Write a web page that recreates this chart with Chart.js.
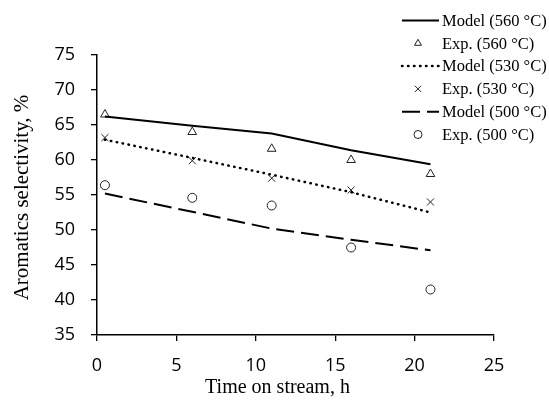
<!DOCTYPE html>
<html>
<head>
<meta charset="utf-8">
<script src="https://cdn.jsdelivr.net/npm/chart.js@4"></script>
<style>
  html, body { margin: 0; padding: 0; background: #fff; }
</style>
</head>
<body>
<canvas id="selectivityChart" width="549" height="405"></canvas>
<script>
// time on stream, h
const times = [0.5, 6, 11, 16, 21]
// aromatics selectivity, %
const model560 = [66.2, 64.9, 63.8, 61.4, 59.4]
const exp560 = [66.5, 64.0, 61.6, 60.0, 58.0]
const model530 = [62.9, 60.3, 57.9, 55.4, 52.5]
const exp530 = [63.2, 59.9, 57.4, 55.7, 54.0]
const model500 = [55.2, 52.6, 50.2, 48.6, 47.1]
const exp500 = [56.4, 54.6, 53.5, 47.5, 41.5]

const legendLabels = [
    'Model (560 °C)',
    'Exp. (560 °C)',
    'Model (530 °C)',
    'Exp. (530 °C)',
    'Model (500 °C)',
    'Exp. (500 °C)'
]
const xTitle = 'Time on stream, h'
const yTitle = 'Aromatics selectivity, %'

const pts = (ys) => times.map((t, i) => ({ x: t, y: ys[i] }))

const lineSet = (label, ys, dash, width, cap) => ({
    label,
    data: pts(ys),
    showLine: true,
    borderColor: '#000',
    borderWidth: width,
    borderDash: dash,
    borderCapStyle: cap,
    pointRadius: 0,
    pointHoverRadius: 0,
    fill: false,
    tension: 0
})

const markSet = (label, ys, style, radius) => ({
    label,
    data: pts(ys),
    showLine: false,
    pointStyle: style,
    pointRadius: radius,
    pointBorderColor: '#222',
    pointBackgroundColor: 'rgba(255,255,255,0)',
    pointBorderWidth: 1
})

const datasets = [
    lineSet(legendLabels[0], model560, [], 2, 'butt'),
    markSet(legendLabels[1], exp560, 'triangle', 5),
    lineSet(legendLabels[2], model530, [0.5, 5.5], 2.5, 'round'),
    markSet(legendLabels[3], exp530, 'crossRot', 5),
    lineSet(legendLabels[4], model500, [18, 7], 2, 'butt'),
    markSet(legendLabels[5], exp500, 'circle', 4.5)
]

const serif = '"Liberation Serif", "Times New Roman", serif'

// legend + axis titles drawn by hand (legend overlaps plot, top right)
const extras = {
    id: 'extras',
    afterDraw(chart) {
        const ctx = chart.ctx
        const x0 = 402, x1 = 439, textX = 442
        ctx.save()
        ctx.font = '16.5px ' + serif
        ctx.textBaseline = 'middle'
        ctx.fillStyle = '#000'
        chart.data.datasets.forEach((ds, i) => {
            const y = 20.5 + i * 22.8
            if (ds.showLine) {
                ctx.beginPath()
                ctx.strokeStyle = '#000'
                ctx.lineWidth = ds.borderWidth
                ctx.lineCap = ds.borderCapStyle
                ctx.setLineDash(ds.borderDash)
                ctx.moveTo(x0, y)
                ctx.lineTo(x1, y)
                ctx.stroke()
                ctx.setLineDash([])
            } else {
                ctx.strokeStyle = '#222'
                ctx.lineWidth = 1
                ctx.fillStyle = 'rgba(255,255,255,0)'
                Chart.helpers.drawPoint(ctx, {
                    pointStyle: ds.pointStyle,
                    radius: 4,
                    rotation: 0,
                    borderWidth: 1
                }, 418, y)
                ctx.fillStyle = '#000'
            }
            ctx.fillText(ds.label, textX, y + 1)
        })

        ctx.textAlign = 'center'
        ctx.textBaseline = 'alphabetic'
        ctx.font = '20px ' + serif
        ctx.fillText(xTitle, 277.5, 393)

        ctx.font = '21px ' + serif
        ctx.translate(28, 197.5)
        ctx.rotate(-Math.PI / 2)
        ctx.fillText(yTitle, 0, 0)
        ctx.restore()
    }
}

const tickFont = { family: '"Open Sans", sans-serif', size: 18 }

new Chart(document.getElementById('selectivityChart'), {
    type: 'scatter',
    data: { datasets },
    options: {
        responsive: false,
        animation: false,
        layout: { padding: { left: 0, top: 55, right: 55, bottom: 0 } },
        plugins: {
            legend: { display: false },
            tooltip: { enabled: false }
        },
        scales: {
            x: {
                type: 'linear',
                min: 0,
                max: 25,
                ticks: { stepSize: 5, color: '#000', font: tickFont, padding: 14 },
                grid: { drawOnChartArea: false, drawTicks: true, tickLength: 6, color: '#000', lineWidth: 1.3 },
                border: { color: '#000', width: 1.5 },
                afterFit: (scale) => { scale.height = 70 }
            },
            y: {
                min: 35,
                max: 75,
                ticks: { stepSize: 5, color: '#000', font: tickFont, padding: 16 },
                grid: { drawOnChartArea: false, drawTicks: true, tickLength: 6, color: '#000', lineWidth: 1.3 },
                border: { color: '#000', width: 1.5 },
                afterFit: (scale) => { scale.width = 97 }
            }
        }
    },
    plugins: [extras]
})
</script>
</body>
</html>
